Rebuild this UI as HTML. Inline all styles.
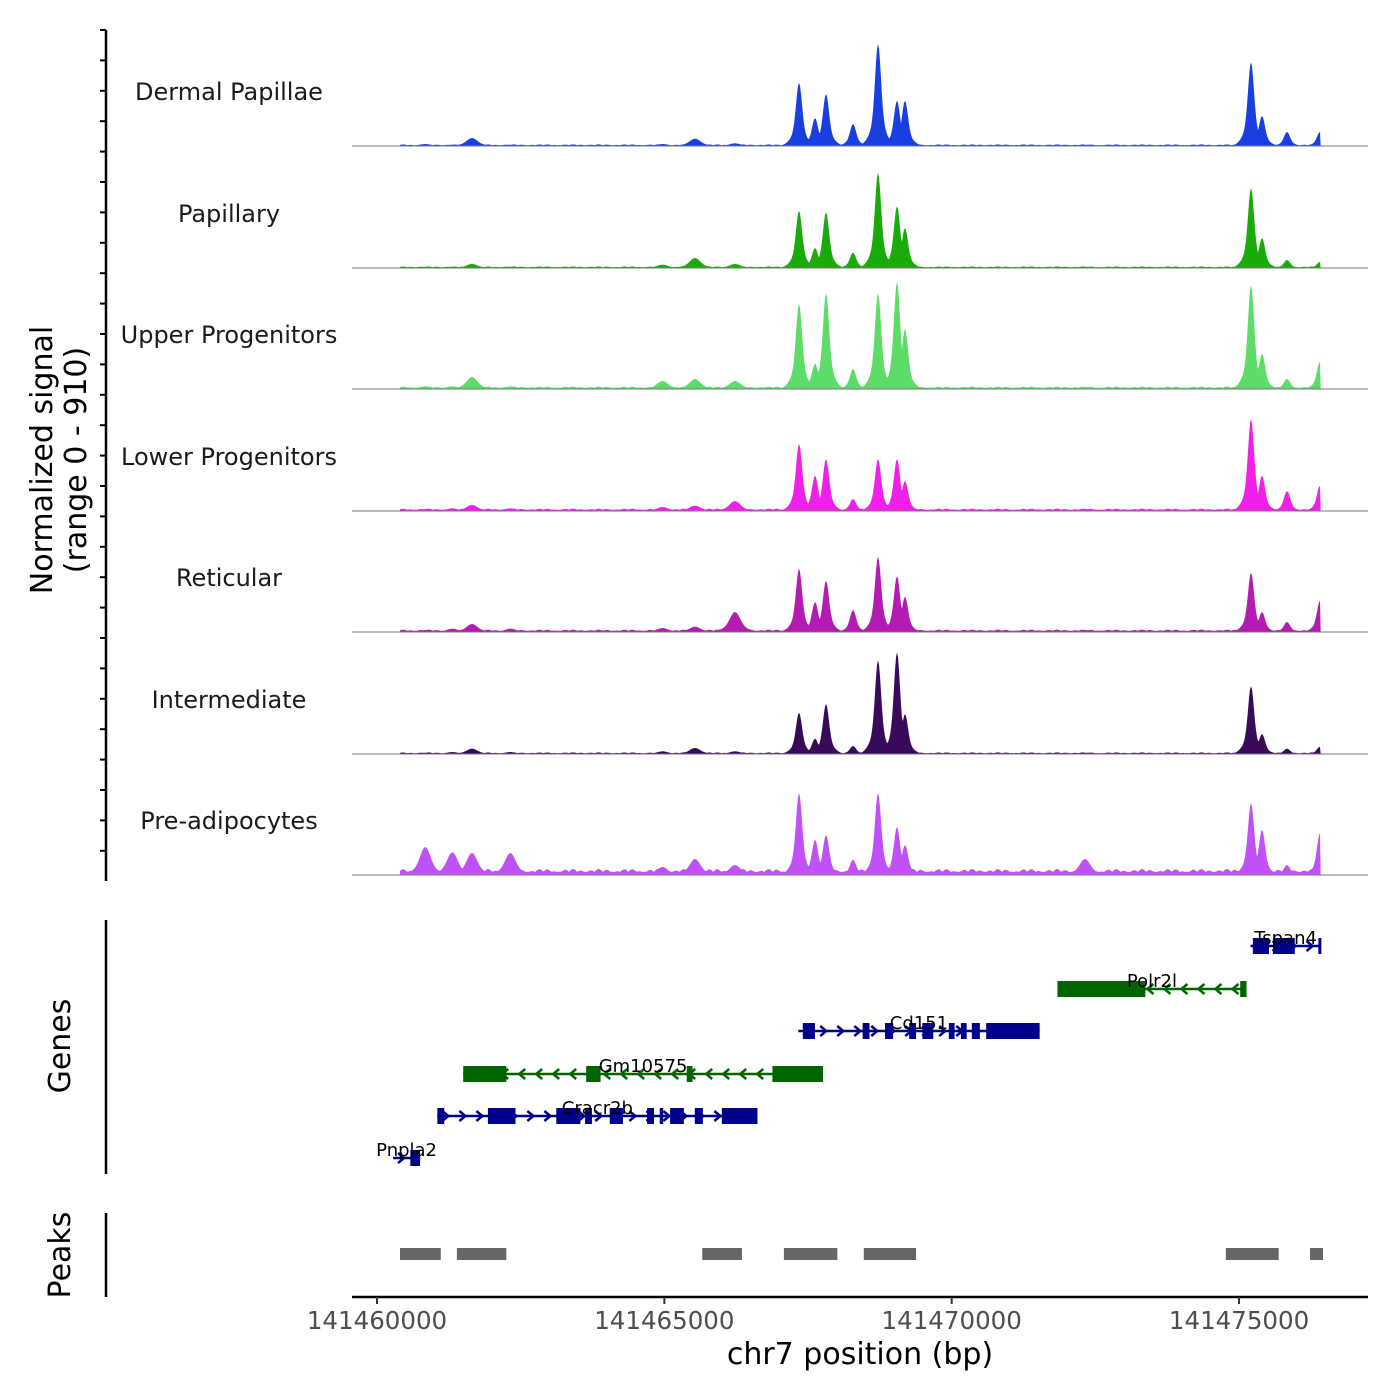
<!DOCTYPE html>
<html><head><meta charset="utf-8"><style>
body{margin:0;background:#fff}
svg{display:block;font-family:"DejaVu Sans","Liberation Sans",sans-serif}
</style></head><body>
<svg id="c" width="1400" height="1400" viewBox="0 0 1400 1400">
<rect width="1400" height="1400" fill="#fff"/>
<g id="tracks"></g>
<g id="genes"></g>
<g id="peaks"></g>
<g id="axes"></g>
</svg>
<script>
// ---- data ----
const trackNames = ["Dermal Papillae","Papillary","Upper Progenitors","Lower Progenitors","Reticular","Intermediate","Pre-adipocytes"];
const trackColors = ["#1a3fe0","#1aaa0a","#5ddc6a","#f020e8","#b31bb3","#3a0a5a","#c050f8"];
// peak centres (bp offset from 141460000)
const peakPos = [7343,7622,7813,8283,8718,9048,9187,15208,15399,15834,16409,1653,5533,6229,4969,12319,840,1310,2320];
// signal values (range 0-910) per track at peakPos
const sigDermal = [475,210,390,165,767,340,340,630,225,105,105,60,55,20,15,10,15,10,10];
const sigPapillary = [430,150,420,115,715,465,300,600,225,60,45,30,75,30,25,10,10,10,10];
const sigUpper = [640,190,720,150,720,805,450,780,265,75,205,90,75,60,60,15,20,20,20];
const sigLower = [505,265,390,90,390,390,225,690,265,150,190,45,40,75,30,15,15,20,20];
const sigReticular = [475,225,385,165,565,420,265,445,150,75,235,60,40,150,30,15,15,25,25];
const sigIntermediate = [310,115,375,60,705,765,300,510,150,40,55,40,45,20,20,10,10,15,15];
const sigPre = [615,265,300,115,615,360,225,540,340,75,315,165,120,75,60,120,210,170,165];
const trackSignals = [sigDermal,sigPapillary,sigUpper,sigLower,sigReticular,sigIntermediate,sigPre];
const trackBackground = [12,12,18,18,18,12,45];
const xTicks = [141460000,141465000,141470000,141475000];
const tickLabels = ["141460000","141465000","141470000","141475000"];
// genes: name, start, end, strand, row
const geneNames = ["Tspan4","Polr2l","Cd151","Gm10575","Cracr2b","Pnpla2"];
const geneStart = [15200,11840,7330,1500,1050,280];
const geneEnd = [16420,15130,11530,7760,6620,750];
const geneStrand = [1,-1,1,-1,1,1];
const geneRow = [0,1,2,3,4,5];
const geneExons = [
 [[15240,15520],[15590,15970],[16380,16420]],
 [[11840,13370],[15020,15130]],
 [[7410,7620],[8450,8570],[8840,8980],[9260,9380],[9490,9680],[9950,10050],[10160,10260],[10350,10490],[10600,11530]],
 [[1500,2250],[3640,3890],[5390,5490],[6880,7760]],
 [[1050,1170],[1930,2410],[3120,3540],[3620,3740],[4050,4280],[4700,4820],[4920,4980],[5100,5340],[5530,5670],[6000,6620]],
 [[580,750]]
];
const peakStart = [400,1390,5660,7080,8470,14770,16235];
const peakEnd = [1110,2250,6350,8010,9380,15690,16461];

// ---- scales ----
const X0 = 141460000;
const xs = bp => 377 + (bp - X0) * 0.05747;
const xo = off => 377 + off * 0.05747;
const baselines = [146,268,389,511,632,754,875];
const ys = v => v / 910 * 121;
const NS = "http://www.w3.org/2000/svg";
function mk(tag, attrs, parent){const e=document.createElementNS(NS,tag);for(const k in attrs)e.setAttribute(k,attrs[k]);parent.appendChild(e);return e;}

const gT = document.getElementById('tracks');
const dataL = xo(400), dataR = xo(16420);
trackNames.forEach((name, t) => {
  const base = baselines[t];
  const vals = trackSignals[t];
  let d = `M${dataL},${base}`;
  for (let x = dataL; x <= dataR; x += 1) {
    let h = ys(trackBackground[t]) * (0.5 + 0.5 * Math.abs(Math.sin(x * 0.37) * Math.cos(x * 0.11)));
    peakPos.forEach((p, i) => {
      const px = xo(p);
      const w = i < 11 ? 4 : 7;
      const hv = ys(vals[i]);
      const v = hv * (0.75 * Math.exp(-Math.pow((x - px) / w, 2)) + 0.25 * Math.exp(-Math.pow((x - px) / (w * 2.5), 2)));
      if (v > h) h = v;
    });
    d += `L${x.toFixed(1)},${(base - h).toFixed(1)}`;
  }
  d += `L${dataR},${base}Z`;
  const a = mk('path', {d, fill: trackColors[t]}, gT);
  
  
  const bl = mk('line', {x1:352,x2:1368,y1:base,y2:base,stroke:'#777','stroke-width':1}, gT);
  
  
  const lb = mk('text', {x:229,y:base-46,'text-anchor':'middle','font-size':24,fill:'#1a1a1a'}, gT);
  lb.textContent = name;
  
  
});

const gG = document.getElementById('genes');
const rowY = [946,989,1031,1074,1116,1158];
geneNames.forEach((n, g) => {
  const y = rowY[geneRow[g]];
  const col = geneStrand[g] > 0 ? '#00008b' : '#006400';
  const x1 = xo(geneStart[g]), x2 = xo(geneEnd[g]);
  const ln = mk('line', {x1, x2, y1:y, y2:y, stroke:col, 'stroke-width':2.5}, gG);
  
  
  for (let x = x1 + 8; x < x2 - 4; x += 17) {
    const s = geneStrand[g];
    const c = mk('path', {d:`M${x - 3*s},${y-5}L${x + 3*s},${y}L${x - 3*s},${y+5}`, fill:'none', stroke:col, 'stroke-width':2.5}, gG);
    
    
  }
  geneExons[g].forEach(e => {
    const r = mk('rect', {x:xo(e[0]), y:y-8, width:Math.max(3, xo(e[1]) - xo(e[0])), height:16, fill:col}, gG);
    
    
  });
  const t = mk('text', {x:(x1 + x2) / 2, y:y-2, 'text-anchor':'middle', 'font-size':18, fill:'#000'}, gG);
  t.textContent = n;
  
  
});

const gP = document.getElementById('peaks');
peakStart.forEach((s, i) => {
  const r = mk('rect', {x:xo(s), y:1248, width:xo(peakEnd[i]) - xo(s), height:12, fill:'#666'}, gP);
  
  
});

const gA = document.getElementById('axes');
mk('line', {x1:106,x2:106,y1:30,y2:881,stroke:'#000','stroke-width':2.5}, gA);
for (let y = 30; y <= 881; y += 30.4) mk('line', {x1:100,x2:106,y1:y,y2:y,stroke:'#000','stroke-width':2}, gA);
mk('line', {x1:106,x2:106,y1:920,y2:1174,stroke:'#000','stroke-width':2.5}, gA);
mk('line', {x1:106,x2:106,y1:1213,y2:1297,stroke:'#000','stroke-width':2.5}, gA);
mk('line', {x1:352,x2:1368,y1:1297,y2:1297,stroke:'#000','stroke-width':2.5}, gA);
xTicks.forEach((v, i) => {
  const x = xs(v);
  mk('line', {x1:x,x2:x,y1:1297,y2:1304,stroke:'#333','stroke-width':2}, gA);
  const t = mk('text', {x, y:1329, 'text-anchor':'middle', 'font-size':24.5, fill:'#4d4d4d'}, gA);
  t.textContent = tickLabels[i];
  
  
});
const xt = mk('text', {x:860, y:1364, 'text-anchor':'middle', 'font-size':30, fill:'#000'}, gA);
xt.textContent = 'chr7 position (bp)';


const yt = mk('text', {transform:'translate(52,460) rotate(-90)', 'text-anchor':'middle', 'font-size':30, fill:'#000'}, gA);
yt.textContent = 'Normalized signal';


const yt2 = mk('text', {transform:'translate(86,460) rotate(-90)', 'text-anchor':'middle', 'font-size':30, fill:'#000'}, gA);
yt2.textContent = '(range 0 - 910)';


const gt = mk('text', {transform:'translate(70,1046) rotate(-90)', 'text-anchor':'middle', 'font-size':30, fill:'#000'}, gA);
gt.textContent = 'Genes';


const pt = mk('text', {transform:'translate(70,1255) rotate(-90)', 'text-anchor':'middle', 'font-size':30, fill:'#000'}, gA);
pt.textContent = 'Peaks';


</script>
</body></html>
